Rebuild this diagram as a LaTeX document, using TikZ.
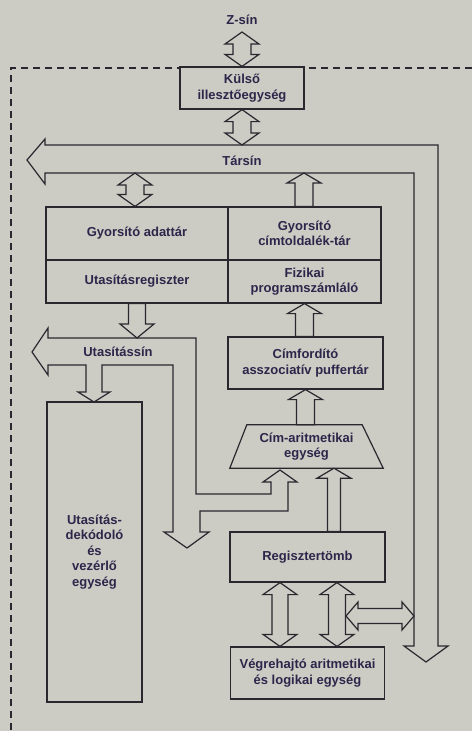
\documentclass[tikz,border=0pt]{standalone}
\usepackage{fontspec}
\setmainfont{Liberation Sans}
\usetikzlibrary{calc,positioning}
\definecolor{paper}{RGB}{204,203,196}
\definecolor{ink}{RGB}{42,40,46}
\definecolor{textink}{RGB}{46,38,74}
\tikzstyle{block} = [
	draw=ink,
	line width=1.2pt,
	fill=paper,
	text=textink,
	align=center,
	inner sep=0pt
]
\tikzstyle{busname} = [text=textink, align=center, inner sep=0pt]
\tikzstyle{fatarrow} = [draw=ink, line width=1.2pt, fill=paper, line join=miter]
\tikzstyle{bus} = [draw=ink, line width=1.2pt, fill=paper, line join=miter]
\newcommand{\fatdbl}[3][9pt]{%
	\draw[fatarrow] let \p1=(#2), \p2=(#3) in
		(\x1,\y1) -- (\x1+17pt,\y1-12pt) -- (\x1+#1,\y1-12pt) -- (\x1+#1,\y2+12pt)
		-- (\x1+17pt,\y2+12pt) -- (\x1,\y2) -- (\x1-17pt,\y2+12pt) -- (\x1-#1,\y2+12pt)
		-- (\x1-#1,\y1-12pt) -- (\x1-17pt,\y1-12pt) -- cycle;}
\newcommand{\fatup}[3][9pt]{%
	\draw[fatarrow] let \p1=(#2), \p2=(#3) in
		(\x1,\y1) -- (\x1+17pt,\y1-10pt) -- (\x1+#1,\y1-10pt) -- (\x1+#1,\y2)
		-- (\x1-#1,\y2) -- (\x1-#1,\y1-10pt) -- (\x1-17pt,\y1-10pt) -- cycle;}
\newcommand{\fatdown}[3][8.5pt]{%
	\draw[fatarrow] let \p1=(#2), \p2=(#3) in
		(\x1-#1,\y1) -- (\x1+#1,\y1) -- (\x1+#1,\y2+14pt) -- (\x1+17pt,\y2+14pt)
		-- (\x1,\y2) -- (\x1-17pt,\y2+14pt) -- (\x1-#1,\y2+14pt) -- cycle;}
\newcommand{\fathdbl}[2]{%
	\draw[fatarrow] let \p1=(#1), \p2=(#2) in
		(\x1,\y1) -- (\x1+12pt,\y1+14pt) -- (\x1+12pt,\y1+7.5pt) -- (\x2-12pt,\y1+7.5pt)
		-- (\x2-12pt,\y1+14pt) -- (\x2,\y1) -- (\x2-12pt,\y1-14pt) -- (\x2-12pt,\y1-7.5pt)
		-- (\x1+12pt,\y1-7.5pt) -- (\x1+12pt,\y1-14pt) -- cycle;}

\begin{document}
\begin{tikzpicture}[x=1pt, y=-1pt, font=\fontsize{13}{15.5}\selectfont\bfseries]
	\fill[paper] (0,0) rectangle (472,731);
	\useasboundingbox (0,0) rectangle (472,731);
	\draw[ink, line width=1.1pt, dash pattern=on 7pt off 5pt] (472,68) -- (11,68) -- (11,731);

	\draw[bus] (27,160) -- (45,139) -- (45,145) -- (438,145) -- (438,646) -- (448,646) -- (426,662)
		-- (404,646) -- (414,646) -- (414,173) -- (45,173) -- (45,184) -- cycle;
	\draw[bus] (32,352) -- (48,328) -- (48,338) -- (196,338) -- (196,494) -- (271,494) -- (271,482)
		-- (263,482) -- (280,470) -- (297,482) -- (288,482) -- (288,511) -- (200,511) -- (200,532)
		-- (209,532) -- (187,548) -- (164,532) -- (173,532) -- (173,365) -- (102,365) -- (102,392)
		-- (110,392) -- (94,402) -- (78,392) -- (86,392) -- (86,365) -- (48,365) -- (48,375) -- cycle;

	\node[busname, name=zsin] at (242,20) {Z-sín};
	\node[busname, name=tarsin] at (242,161) {Társín};
	\node[busname, name=utsin] at (118,352) {Utasítássín};

	\node[block, name=kulso, minimum width=124pt, minimum height=42pt] at (242,88) {Külső\\illesztőegység};
	\node[block, name=gyadat, minimum width=182pt, minimum height=53pt] at (137,233.5) {Gyorsító adattár};
	\node[block, name=gycim, right of=gyadat, node distance=167.5pt, minimum width=153pt, minimum height=53pt] {Gyorsító\\címtoldalék-tár};
	\node[block, name=utreg, below of=gyadat, node distance=48pt, minimum width=182pt, minimum height=43pt] {Utasításregiszter};
	\node[block, name=fizpc, below of=gycim, node distance=48pt, minimum width=153pt, minimum height=43pt] {Fizikai\\programszámláló};
	\node[block, name=cimford, minimum width=155pt, minimum height=52pt] at (305.5,363) {Címfordító\\asszociatív puffertár};
	\node[busname, name=cimarit, minimum width=153pt, minimum height=43pt] at (306.5,446.5) {Cím-aritmetikai\\egység};
	\draw[ink, line width=1.2pt] (cimarit.south west) -- ($(cimarit.north west)+(17,0)$)
		-- ($(cimarit.north east)+(-21,0)$) -- (cimarit.south east) -- cycle;
	\node[block, name=regiszter, minimum width=155pt, minimum height=50pt] at (307.5,557) {Regisztertömb};
	\node[block, name=vegreh, below of=regiszter, node distance=116pt, minimum width=154pt, minimum height=52pt] {Végrehajtó aritmetikai\\és logikai egység};
	\node[block, name=dekod, minimum width=95pt, minimum height=300pt] at (94.5,552) {Utasítás-\\dekódoló\\és\\vezérlő\\egység};

	\coordinate (zsinend) at (242,32);
	\coordinate (tarsinin) at (242,145);
	\coordinate (tarsinA) at (135,173);
	\coordinate (tarsinB) at (304,173);
	\coordinate (tarsinC) at (414,616);
	\coordinate (utsinin) at (137,338);
	\coordinate (aritin) at ($(cimarit.south)+(27.5,0)$);
	\coordinate (regL) at ($(regiszter.south)+(-27.5,0)$);
	\coordinate (regR) at ($(regiszter.south)+(29.5,0)$);
	\coordinate (regout) at (346,616);

	\fatdbl{zsinend}{kulso.north}
	\fatdbl{kulso.south}{tarsinin}
	\fatdbl{tarsinA}{gyadat.north}
	\fatup{tarsinB}{gycim.north}
	\fatdown{utreg.south}{utsinin}
	\fatup{fizpc.south}{cimford.north}
	\fatup{cimford.south}{cimarit.north}
	\fatup[6.5pt]{aritin}{regiszter.north}
	\fatdbl[8pt]{regL}{vegreh.north}
	\fatdbl[8.5pt]{regR}{vegreh.north}
	\fathdbl{regout}{tarsinC}
\end{tikzpicture}
\end{document}
